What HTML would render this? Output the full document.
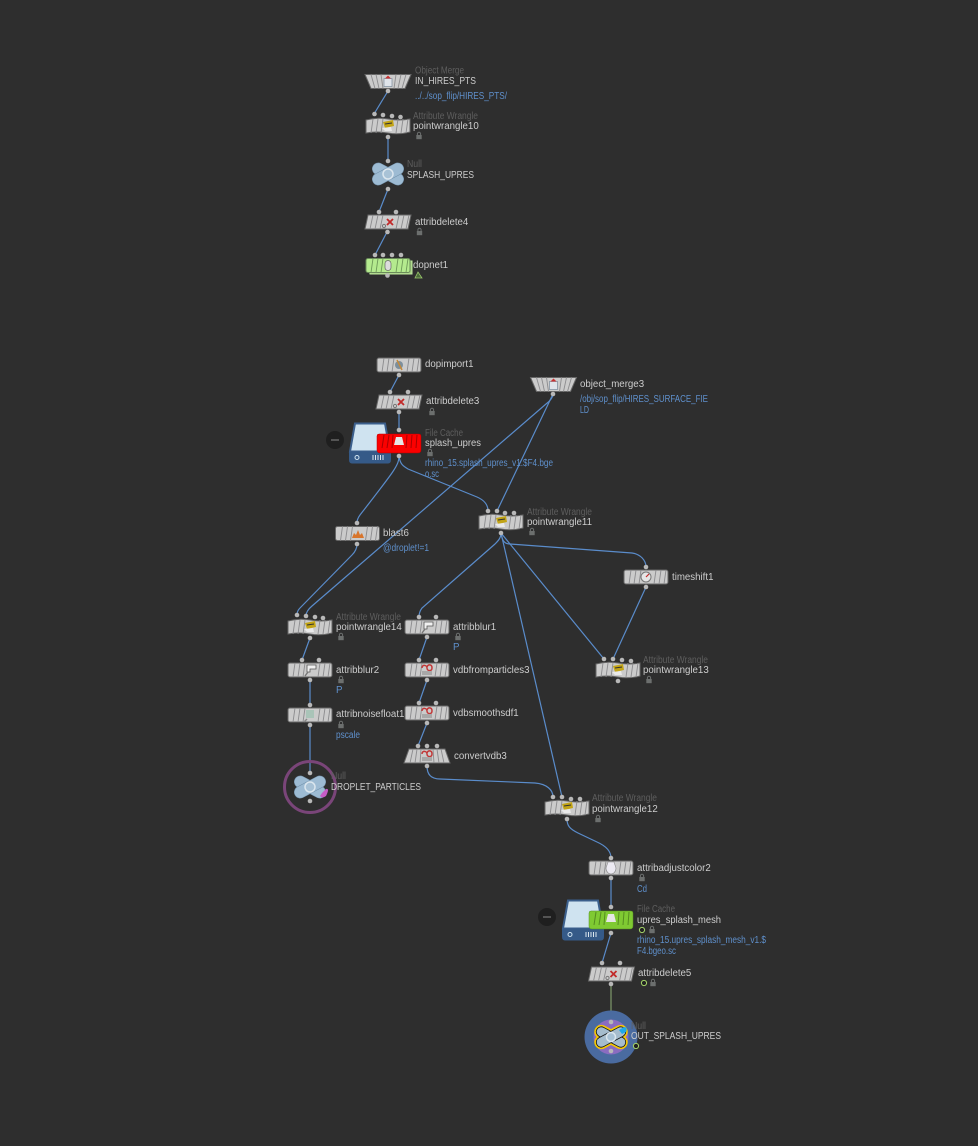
<!DOCTYPE html>
<html><head><meta charset="utf-8"><style>
html,body{margin:0;padding:0;background:#2e2e2e;width:978px;height:1146px;overflow:hidden}
svg{display:block;filter:blur(.3px)}
text{font-family:"Liberation Sans",sans-serif;font-size:9.7px;fill:#cdcdcd}
.t{fill:#5e5e5e}
.b{fill:#5f90cc}
.c path{fill:none;stroke:#5a8ccb;stroke-width:1.2}
</style></head><body>
<svg width="978" height="1146" viewBox="0 0 978 1146" xmlns="http://www.w3.org/2000/svg">
<defs>
<circle id="d" r="2.3" fill="#b8b8b8"/>
<path id="st" d="M-17 7L-15-7M-12 7L-10-7M-7 7L-5-7M8 7L10-7M13 7L15-7M18 7L20-7" stroke="#8c8c8e" stroke-width=".9" fill="none"/>
<g id="rect"><rect x="-22" y="-7" width="44" height="14" rx="2" fill="#cbcbcb" stroke="#666"/><use href="#st"/></g>
<g id="wr"><path d="M-22-6Q-11-9 0-7T22-7V6Q11 9 0 7T-22 7Z" fill="#cbcbcb" stroke="#666"/><use href="#st"/><path d="M-5-4L5-6L6 0L-3 2Z" fill="#c2a416"/><path d="M-6 2L3 1L4 5L-3 5Z" fill="#eaeaea"/><path d="M-3-2L4-3" stroke="#333" stroke-width="1"/></g>
<g id="trap"><path d="M-23-7H23L17 7H-17Z" fill="#cbcbcb" stroke="#666"/><path d="M-17-7L-13 7M-12-7L-9 7M-7-7L-5 7M8-7L6 7M13-7L10 7M18-7L14 7" stroke="#8c8c8e" stroke-width=".9" fill="none"/><rect x="-4" y="-3" width="8" height="8" fill="#dfe4ea" stroke="#7a8a9a" stroke-width=".7"/><path d="M-3-3L0-6L3-3Z" fill="#c93030"/></g>
<g id="par"><path d="M-20-7H23L20 7H-23Z" fill="#cbcbcb" stroke="#666"/><path d="M-18 7L-15-7M-13 7L-10-7M-8 7L-5-7M8 7L11-7M13 7L16-7M18 7L21-7" stroke="#8c8c8e" stroke-width=".9" fill="none"/><path d="M-1-3L5 3M5-3L-1 3" stroke="#c22a2a" stroke-width="1.8"/><circle cx="-4" cy="4" r="1.6" fill="none" stroke="#777"/></g>
<g id="blur"><use href="#rect"/><path d="M-3-5H6V-1H0V2H-3Z" fill="#f0f0f0" stroke="#555" stroke-width=".8"/><path d="M-2 2L-5 6" stroke="#777" stroke-width="1.4"/></g>
<g id="vdb"><use href="#rect"/><path d="M-5-2C-5-6 0-5 0-2S5 2 5-2 1-6 0-3" fill="none" stroke="#c23838" stroke-width="1.5"/><rect x="-5" y="1" width="10" height="4" fill="#a8a8a8"/></g>
<g id="x"><g fill="#9dbbd3" stroke="#6f8ea8" stroke-width=".5"><rect x="-17" y="-6" width="34" height="12" rx="6" transform="rotate(28)"/><rect x="-17" y="-6" width="34" height="12" rx="6" transform="rotate(-28)"/></g><circle r="5" fill="#a8c2d6" stroke="#dbe6ee" stroke-width="1.5"/></g>
<g id="lock"><rect x="-2.7" y="-1" width="5.4" height="4.2" fill="#6c6f6e"/><path d="M-1.6-1V-2.2A1.6 1.6 0 0 1 1.6-2.2V-1" stroke="#6c6f6e" fill="none" stroke-width="1"/></g>
<g id="fl"><circle r="2.6" fill="#222" stroke="#a4d468" stroke-width="1"/></g>
<g id="drive"><path d="M5 0H35L40 28H0Z" fill="#cfe3f0" stroke="#3b5f8c" stroke-width="2"/><path d="M-1 28H41V36Q41 40 38 40H2Q-1 40-1 36Z" fill="#355a88"/><circle cx="7" cy="34" r="2" fill="none" stroke="#cfe3f0"/><path d="M23 31.5v5M25.5 31.5v5M28 31.5v5M30.5 31.5v5M33 31.5v5" stroke="#dbe6ee"/></g>
<g id="minus"><circle r="9" fill="#1f1f1f"/><path d="M-4 0H4" stroke="#666" stroke-width="1.5"/></g>
</defs>
<rect width="978" height="1146" fill="#2e2e2e"/>

<g class="c">
<path d="M388 91L374 114M388 137V161M388 189L379 212M387 232L375 255"/>
<path d="M399 375L390 392M399 412V430"/>
<path d="M399 456C399 465 395 470 360 515Q357 519 357 523"/>
<path d="M399 456C400 464 403 466 408 469L477 497C484 500 488 505 488 511"/>
<path d="M357 544C357 549 355 552 352 555L300 608Q297 611 297 615"/>
<path d="M553 394C553 398 550 401 546 404L312 606Q306 611 306 616"/>
<path d="M553 394L497 511"/>
<path d="M501 533C502 540 504 544 510 544L632 553C640 554 646 560 646 567"/>
<path d="M501 533C501 538 498 541 495 544L422 608Q419 612 419 617"/>
<path d="M501 533L604 659"/>
<path d="M501 533L562 797"/>
<path d="M427 766C427 775 432 779 440 779L535 783C547 784 553 790 553 797"/>
<path d="M646 587L613 659"/>
<path d="M567 819C567 826 570 829 578 833L597 842C606 846 611 851 611 858"/>
<path d="M611 878V907M611 933L602 963"/>
<path d="M310 638L302 660M310 680V705M310 725V773"/>
<path d="M427 637L419 660M427 680L419 703M427 723L418 746"/>
<path d="M611 984V1022" style="stroke:#7f9a6a"/>
</g>

<!-- top chain -->
<use href="#trap" x="388" y="81.5"/>
<use href="#wr" x="388" y="126"/>
<use href="#x" x="388" y="174"/>
<use href="#par" x="388" y="222"/>
<path d="M368 261H412V274H370Z" fill="#a4cf80" stroke="#c0e8a0"/>
<g transform="translate(388 265.5)"><rect x="-22" y="-7" width="44" height="14" rx="2" fill="#b4ea8e" stroke="#6a8a5a"/><path d="M-17 7L-15-7M-12 7L-10-7M-7 7L-5-7M8 7L10-7M13 7L15-7M18 7L20-7" stroke="#6f9a58" stroke-width=".9" fill="none"/><rect x="-3" y="-5" width="6" height="10" rx="3" fill="#dcdcdc" stroke="#666" stroke-width=".7"/></g>

<!-- mid -->
<use href="#rect" x="399" y="365"/>
<g transform="translate(399 365)"><circle r="4" fill="#7d8f9c"/><path d="M-2-5L3 5" stroke="#c58a3a" stroke-width="1.5"/></g>
<use href="#par" x="399" y="402"/>
<use href="#minus" x="335" y="440"/>
<use href="#drive" x="350" y="423.5"/>
<path d="M377 436Q377 434 379 434H419Q421 434 421 436V450Q421 453 418 453H380Q377 453 377 450Z" fill="#fb0000" stroke="#b00000" stroke-width=".5"/>
<path d="M382 448L384 435M387 448L389 435M392 448L393 435M406 448L407 435M411 448L412 435M416 448L417 435" stroke="#a80000"/>
<path d="M394 445L396 437H402L404 445Z" fill="#e6e6e6"/>
<use href="#trap" x="553.5" y="384.5"/>
<use href="#wr" x="501" y="522"/>
<use href="#rect" x="357.5" y="533.5"/>
<path d="M352 538L354 533L356 535L358 530L360 535L362 533L364 538Z" fill="#d8752c"/>
<use href="#rect" x="646" y="577"/>
<circle cx="646" cy="577" r="5" fill="#e6e6e6" stroke="#777"/><path d="M646 577L649 574" stroke="#c22a2a" stroke-width="1.2"/>

<!-- left -->
<use href="#wr" x="310" y="627"/>
<use href="#blur" x="310" y="670"/>
<use href="#rect" x="310" y="715"/>
<path d="M306 710H314V718H306Z" fill="#a9c4b8"/><path d="M307 719L304 722" stroke="#888" stroke-width="1.4"/>
<circle cx="310" cy="787" r="25.5" fill="none" stroke="#7a4579" stroke-width="3"/>
<use href="#x" x="310" y="787"/>
<path d="M322 793L326 789Q330 788 326 796Q322 799 320 796Z" fill="#c65cc6"/>

<!-- centre column -->
<use href="#blur" x="427" y="627"/>
<use href="#vdb" x="427" y="670"/>
<use href="#vdb" x="427" y="713"/>
<path d="M409 749H445L450 763H404Z" fill="#cbcbcb" stroke="#666"/>
<path d="M410 763L413 749M415 763L417 749M420 763L421 749M434 763L433 749M439 763L437 749M444 763L441 749" stroke="#8c8c8e" stroke-width=".9" fill="none"/>
<path d="M422 754C422 750 427 751 427 754S432 758 432 754 428 750 427 753" fill="none" stroke="#c23838" stroke-width="1.5"/><rect x="422" y="757" width="10" height="4" fill="#a8a8a8"/>

<!-- right -->
<use href="#wr" x="618" y="670"/>
<use href="#wr" x="567" y="808"/>
<use href="#rect" x="611" y="868"/>
<path d="M606 868A5 6 0 0 0 616 868L614 862H608Z" fill="#eceaf2" stroke="#888" stroke-width=".6"/>
<use href="#minus" x="547" y="917"/>
<use href="#drive" x="563" y="900.5"/>
<path d="M589 913Q589 911 591 911H631Q633 911 633 913V926Q633 929 630 929H592Q589 929 589 926Z" fill="#7fca32" stroke="#558c20" stroke-width=".5"/>
<path d="M594 925L596 912M599 925L601 912M604 925L605 912M618 925L619 912M623 925L624 912M628 925L629 912" stroke="#558c20"/>
<path d="M606 922L608 914H614L616 922Z" fill="#e6e6e6"/>
<use href="#par" x="611.5" y="974"/>
<circle cx="611" cy="1037" r="26.5" fill="#4a6ba0"/>
<circle cx="611" cy="1037" r="17.5" fill="#8a6cc0"/>
<g fill="#a5bccd" stroke="#f5c800" stroke-width="2"><rect x="-17" y="-6" width="34" height="12" rx="6" transform="translate(611 1037) rotate(28)"/><rect x="-17" y="-6" width="34" height="12" rx="6" transform="translate(611 1037) rotate(-28)"/></g>
<g fill="#a5bccd" stroke="#111" stroke-width=".8"><rect x="-16" y="-5" width="32" height="10" rx="5" transform="translate(611 1037) rotate(28)"/><rect x="-16" y="-5" width="32" height="10" rx="5" transform="translate(611 1037) rotate(-28)"/></g>
<circle cx="611" cy="1037" r="4.5" fill="#a8c2d6" stroke="#dbe6ee" stroke-width="1.5"/>
<path d="M619 1030L624 1027Q628 1027 626 1032L622 1034Z" fill="#1ea8e8"/>

<!-- dots -->
<g>
<use href="#d" x="388" y="91"/><use href="#d" x="374.5" y="114"/><use href="#d" x="383" y="115"/><use href="#d" x="392" y="116"/><use href="#d" x="400.5" y="117"/>
<use href="#d" x="388" y="137"/><use href="#d" x="388" y="161"/><use href="#d" x="388" y="189"/><use href="#d" x="379" y="212"/><use href="#d" x="396" y="212"/><use href="#d" x="387.5" y="232"/>
<use href="#d" x="375" y="255"/><use href="#d" x="383" y="255"/><use href="#d" x="392" y="255"/><use href="#d" x="401" y="255"/><use href="#d" x="387.5" y="275.5"/>
<use href="#d" x="399" y="375"/><use href="#d" x="390" y="392"/><use href="#d" x="408" y="392"/><use href="#d" x="399" y="412"/><use href="#d" x="399" y="430"/><use href="#d" x="399" y="456"/>
<use href="#d" x="553" y="394"/>
<use href="#d" x="488" y="511"/><use href="#d" x="497" y="511"/><use href="#d" x="505" y="513"/><use href="#d" x="514" y="513"/><use href="#d" x="501" y="533"/>
<use href="#d" x="357" y="523"/><use href="#d" x="357" y="544"/>
<use href="#d" x="646" y="567"/><use href="#d" x="646" y="587"/>
<use href="#d" x="297" y="615"/><use href="#d" x="306" y="616"/><use href="#d" x="315" y="617"/><use href="#d" x="323" y="618"/><use href="#d" x="310" y="638"/>
<use href="#d" x="302" y="660"/><use href="#d" x="319" y="660"/><use href="#d" x="310" y="680"/><use href="#d" x="310" y="705"/><use href="#d" x="310" y="725"/><use href="#d" x="310" y="773"/><use href="#d" x="310" y="801"/>
<use href="#d" x="419" y="617"/><use href="#d" x="436" y="617"/><use href="#d" x="427" y="637"/><use href="#d" x="419" y="660"/><use href="#d" x="436" y="660"/><use href="#d" x="427" y="680"/><use href="#d" x="419" y="703"/><use href="#d" x="436" y="703"/><use href="#d" x="427" y="723"/><use href="#d" x="418" y="746"/><use href="#d" x="427" y="746"/><use href="#d" x="437" y="746"/><use href="#d" x="427" y="766"/>
<use href="#d" x="604" y="659"/><use href="#d" x="613" y="659"/><use href="#d" x="622" y="660"/><use href="#d" x="631" y="661"/><use href="#d" x="618" y="681"/>
<use href="#d" x="553" y="797"/><use href="#d" x="562" y="797"/><use href="#d" x="571" y="799"/><use href="#d" x="580" y="799"/><use href="#d" x="567" y="819"/>
<use href="#d" x="611" y="858"/><use href="#d" x="611" y="878"/><use href="#d" x="611" y="907"/><use href="#d" x="611" y="933"/><use href="#d" x="602" y="963"/><use href="#d" x="620" y="963"/><use href="#d" x="611" y="984"/><use href="#d" x="611" y="1022"/><use href="#d" x="611" y="1051"/>
</g>

<!-- locks & flags -->
<use href="#lock" x="419" y="136"/><use href="#lock" x="419.5" y="232"/>
<path d="M415 278L418 272L422 278Z" fill="#4a6a3a" stroke="#9cc86c" stroke-width=".8"/>
<use href="#lock" x="432" y="412"/><use href="#lock" x="430" y="453"/><use href="#lock" x="532" y="532"/>
<use href="#lock" x="341" y="637"/><use href="#lock" x="341" y="680"/><use href="#lock" x="341" y="725"/>
<use href="#lock" x="458" y="637"/><use href="#lock" x="649" y="680"/><use href="#lock" x="598" y="819"/><use href="#lock" x="642" y="878"/>
<use href="#fl" x="642" y="930"/><use href="#lock" x="652" y="930"/><use href="#fl" x="644" y="983"/><use href="#lock" x="653" y="983"/><use href="#fl" x="636" y="1046"/>

<!-- labels -->
<text class="t" x="415" y="73.5" textLength="49" lengthAdjust="spacingAndGlyphs">Object Merge</text><text x="415" y="84" textLength="61" lengthAdjust="spacingAndGlyphs">IN_HIRES_PTS</text><text class="b" x="415" y="99" textLength="92" lengthAdjust="spacingAndGlyphs">../../sop_flip/HIRES_PTS/</text>
<text class="t" x="413" y="119" textLength="65" lengthAdjust="spacingAndGlyphs">Attribute Wrangle</text><text x="413" y="129">pointwrangle10</text>
<text class="t" x="407" y="167" textLength="15" lengthAdjust="spacingAndGlyphs">Null</text><text x="407" y="178" textLength="67" lengthAdjust="spacingAndGlyphs">SPLASH_UPRES</text>
<text x="415" y="225">attribdelete4</text><text x="413" y="268">dopnet1</text>
<text x="425" y="367">dopimport1</text><text x="426" y="404">attribdelete3</text>
<text class="t" x="425" y="436" textLength="38" lengthAdjust="spacingAndGlyphs">File Cache</text><text x="425" y="446" textLength="56" lengthAdjust="spacingAndGlyphs">splash_upres</text>
<text class="b" x="425" y="466" textLength="128" lengthAdjust="spacingAndGlyphs">rhino_15.splash_upres_v1.$F4.bge</text><text class="b" x="425" y="477" textLength="14" lengthAdjust="spacingAndGlyphs">o.sc</text>
<text x="580" y="387">object_merge3</text><text class="b" x="580" y="402" textLength="128" lengthAdjust="spacingAndGlyphs">/obj/sop_flip/HIRES_SURFACE_FIE</text><text class="b" x="580" y="413" textLength="9" lengthAdjust="spacingAndGlyphs">LD</text>
<text class="t" x="527" y="515" textLength="65" lengthAdjust="spacingAndGlyphs">Attribute Wrangle</text><text x="527" y="525">pointwrangle11</text>
<text x="383" y="536">blast6</text><text class="b" x="383" y="551" textLength="46" lengthAdjust="spacingAndGlyphs">@droplet!=1</text>
<text x="672" y="580">timeshift1</text>
<text class="t" x="336" y="620" textLength="65" lengthAdjust="spacingAndGlyphs">Attribute Wrangle</text><text x="336" y="630">pointwrangle14</text>
<text x="453" y="630">attribblur1</text><text class="b" x="453" y="650">P</text>
<text class="t" x="643" y="663" textLength="65" lengthAdjust="spacingAndGlyphs">Attribute Wrangle</text><text x="643" y="673">pointwrangle13</text>
<text x="336" y="673">attribblur2</text><text class="b" x="336" y="693">P</text>
<text x="453" y="673">vdbfromparticles3</text><text x="453" y="716">vdbsmoothsdf1</text>
<text x="336" y="717">attribnoisefloat1</text><text class="b" x="336" y="738" textLength="24" lengthAdjust="spacingAndGlyphs">pscale</text>
<text x="454" y="759">convertvdb3</text>
<text class="t" x="331" y="779" textLength="15" lengthAdjust="spacingAndGlyphs">Null</text><text x="331" y="790" textLength="90" lengthAdjust="spacingAndGlyphs">DROPLET_PARTICLES</text>
<text class="t" x="592" y="801" textLength="65" lengthAdjust="spacingAndGlyphs">Attribute Wrangle</text><text x="592" y="812">pointwrangle12</text>
<text x="637" y="871">attribadjustcolor2</text><text class="b" x="637" y="892" textLength="10" lengthAdjust="spacingAndGlyphs">Cd</text>
<text class="t" x="637" y="912" textLength="38" lengthAdjust="spacingAndGlyphs">File Cache</text><text x="637" y="923" textLength="84" lengthAdjust="spacingAndGlyphs">upres_splash_mesh</text>
<text class="b" x="637" y="943" textLength="129" lengthAdjust="spacingAndGlyphs">rhino_15.upres_splash_mesh_v1.$</text><text class="b" x="637" y="954" textLength="39" lengthAdjust="spacingAndGlyphs">F4.bgeo.sc</text>
<text x="638" y="976">attribdelete5</text>
<text class="t" x="631" y="1029" textLength="15" lengthAdjust="spacingAndGlyphs">Null</text><text x="631" y="1039" textLength="90" lengthAdjust="spacingAndGlyphs">OUT_SPLASH_UPRES</text>
</svg>
</body></html>
